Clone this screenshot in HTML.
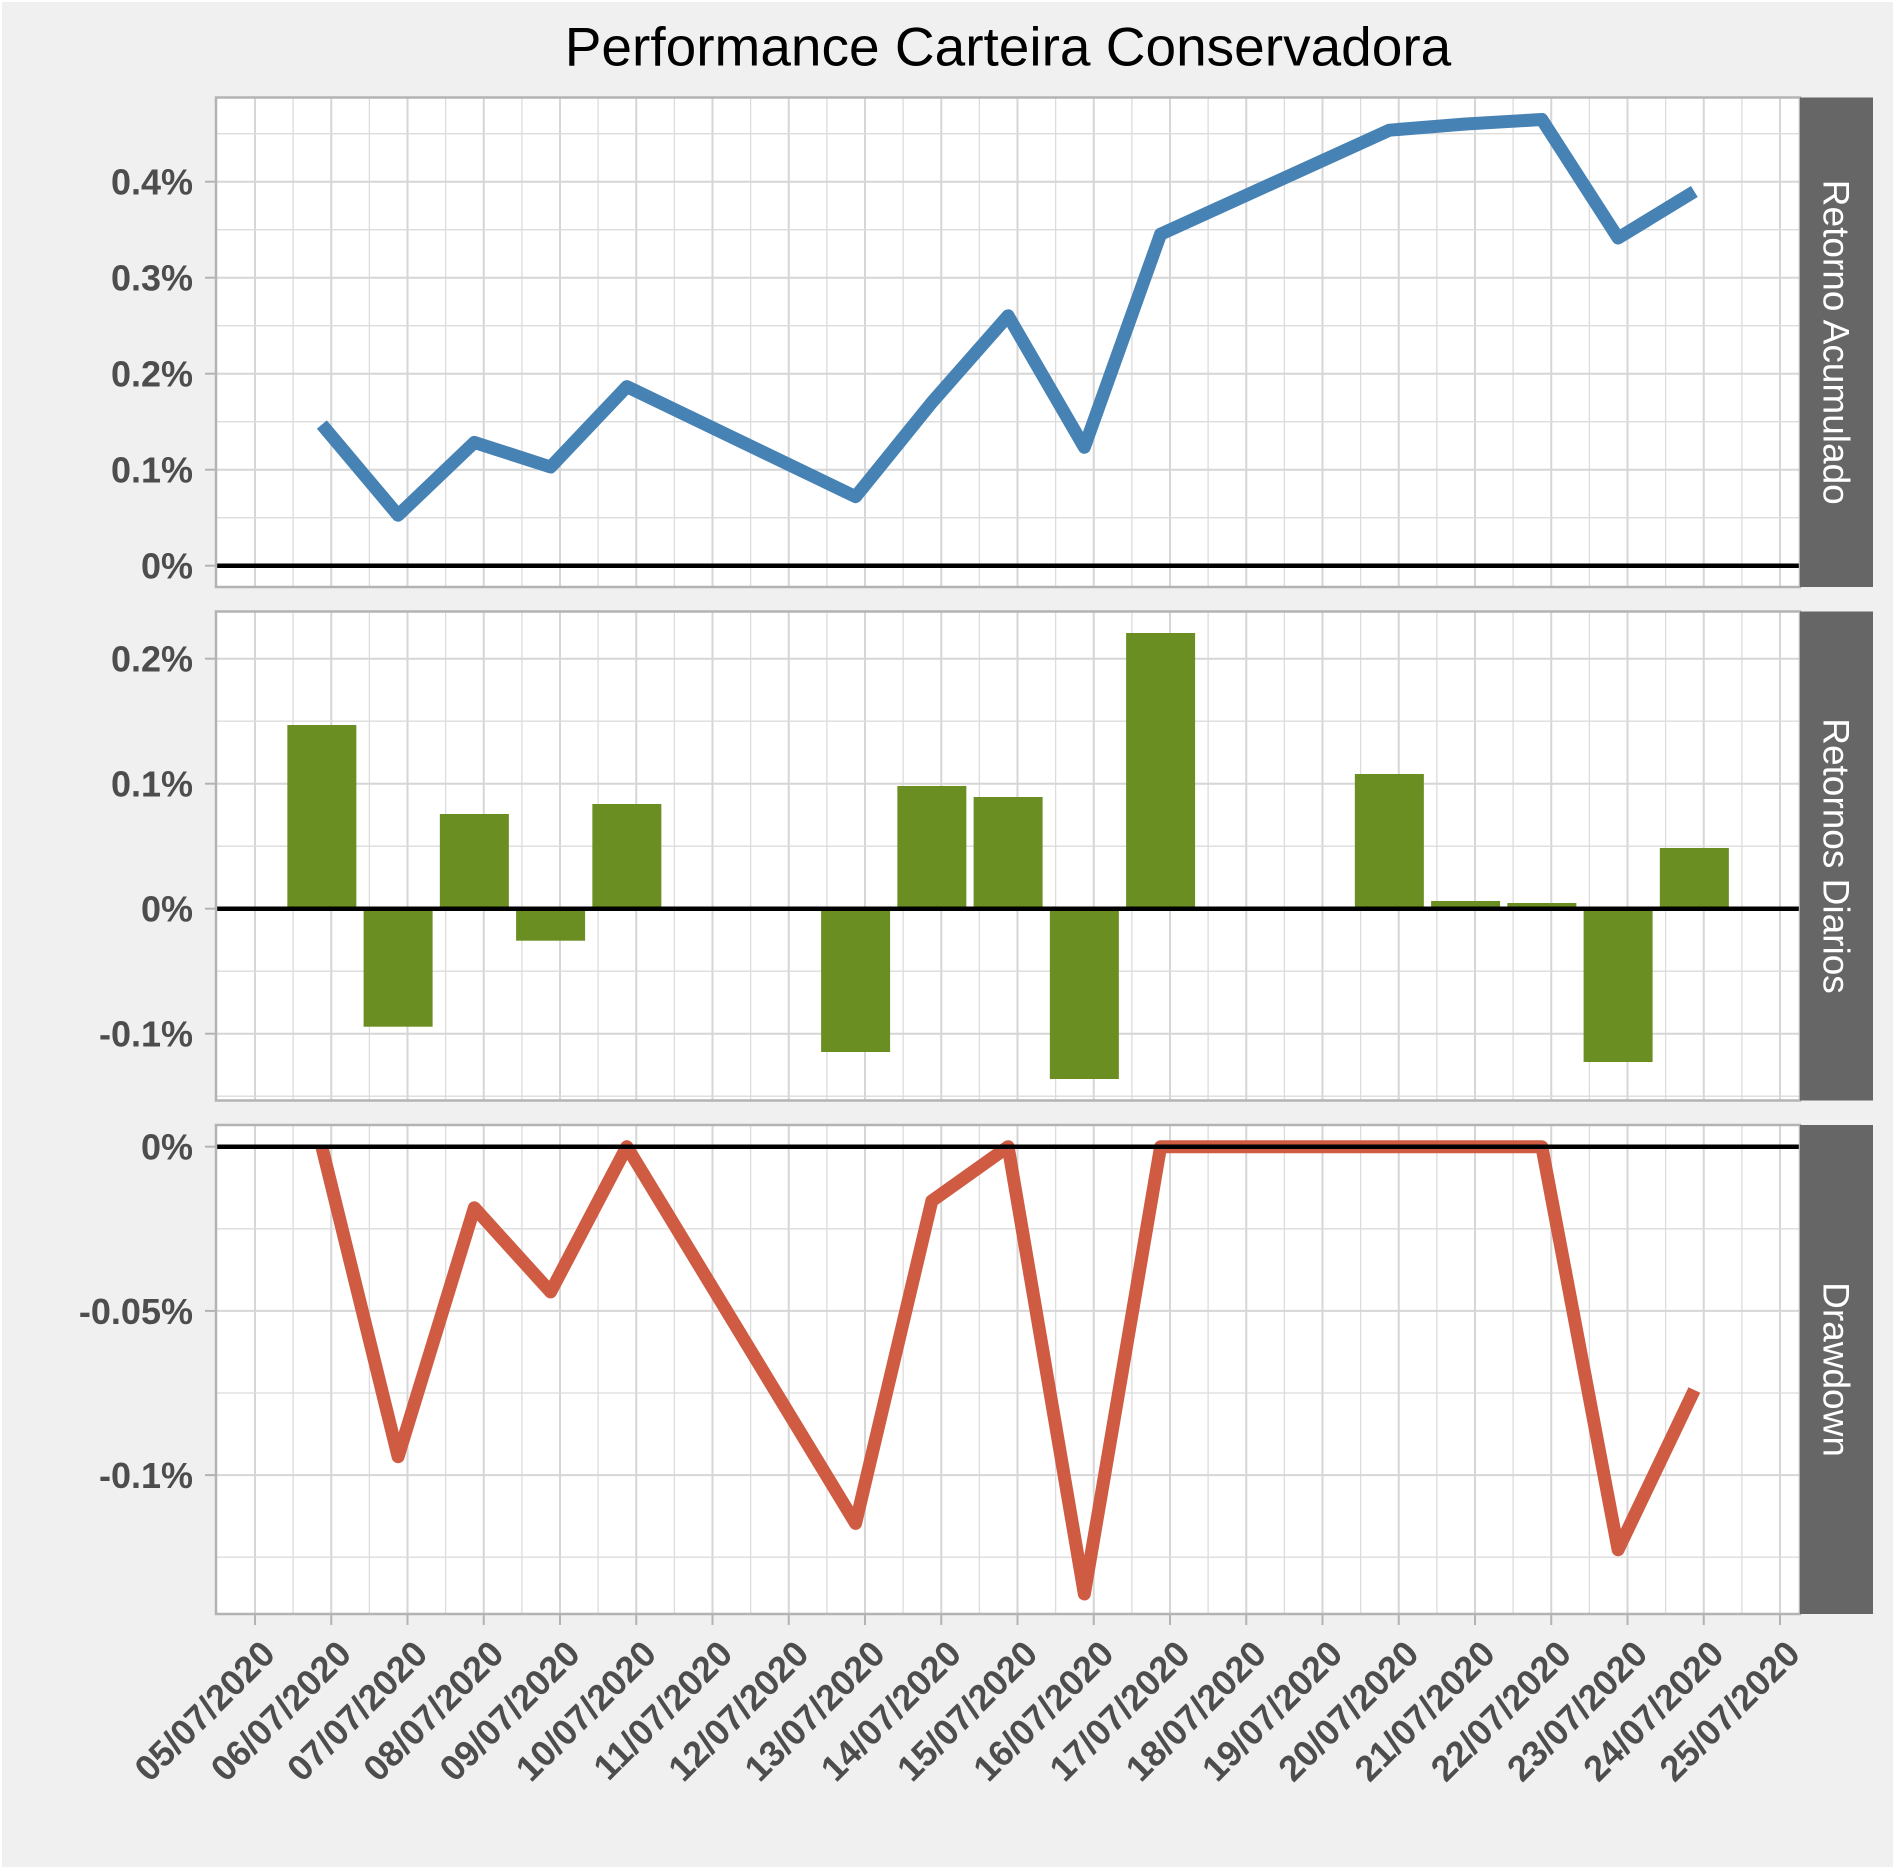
<!DOCTYPE html>
<html>
<head>
<meta charset="utf-8">
<style>
  html, body { margin:0; padding:0; background:#ffffff; }
  svg { display:block; }
  .yl { font-family:"Liberation Sans", Arial, sans-serif; font-weight:bold; font-size:36px; fill:#4d4d4d; }
  .xl { font-family:"Liberation Sans", Arial, sans-serif; font-weight:bold; font-size:36px; fill:#4d4d4d; }
  .st { font-family:"Liberation Sans", Arial, sans-serif; font-size:37px; fill:#ffffff; }
  .tt { font-family:"Liberation Sans", Arial, sans-serif; font-size:55px; fill:#000000; }
</style>
</head>
<body>
<svg width="1896" height="1871" viewBox="0 0 1896 1871" xmlns="http://www.w3.org/2000/svg">
  <defs>
    <g id="vgrid">
      <g stroke="#dcdcdc" stroke-width="1.3">
        <line x1="293.1" y1="0" x2="293.1" y2="490"/>
        <line x1="369.4" y1="0" x2="369.4" y2="490"/>
        <line x1="445.6" y1="0" x2="445.6" y2="490"/>
        <line x1="521.9" y1="0" x2="521.9" y2="490"/>
        <line x1="598.1" y1="0" x2="598.1" y2="490"/>
        <line x1="674.4" y1="0" x2="674.4" y2="490"/>
        <line x1="750.6" y1="0" x2="750.6" y2="490"/>
        <line x1="826.9" y1="0" x2="826.9" y2="490"/>
        <line x1="903.1" y1="0" x2="903.1" y2="490"/>
        <line x1="979.4" y1="0" x2="979.4" y2="490"/>
        <line x1="1055.6" y1="0" x2="1055.6" y2="490"/>
        <line x1="1131.9" y1="0" x2="1131.9" y2="490"/>
        <line x1="1208.1" y1="0" x2="1208.1" y2="490"/>
        <line x1="1284.4" y1="0" x2="1284.4" y2="490"/>
        <line x1="1360.6" y1="0" x2="1360.6" y2="490"/>
        <line x1="1436.9" y1="0" x2="1436.9" y2="490"/>
        <line x1="1513.1" y1="0" x2="1513.1" y2="490"/>
        <line x1="1589.4" y1="0" x2="1589.4" y2="490"/>
        <line x1="1665.6" y1="0" x2="1665.6" y2="490"/>
        <line x1="1741.9" y1="0" x2="1741.9" y2="490"/>
      </g>
      <g stroke="#d6d6d6" stroke-width="2">
        <line x1="255" y1="0" x2="255" y2="490"/>
        <line x1="331.25" y1="0" x2="331.25" y2="490"/>
        <line x1="407.5" y1="0" x2="407.5" y2="490"/>
        <line x1="483.75" y1="0" x2="483.75" y2="490"/>
        <line x1="560" y1="0" x2="560" y2="490"/>
        <line x1="636.25" y1="0" x2="636.25" y2="490"/>
        <line x1="712.5" y1="0" x2="712.5" y2="490"/>
        <line x1="788.75" y1="0" x2="788.75" y2="490"/>
        <line x1="865" y1="0" x2="865" y2="490"/>
        <line x1="941.25" y1="0" x2="941.25" y2="490"/>
        <line x1="1017.5" y1="0" x2="1017.5" y2="490"/>
        <line x1="1093.75" y1="0" x2="1093.75" y2="490"/>
        <line x1="1170" y1="0" x2="1170" y2="490"/>
        <line x1="1246.25" y1="0" x2="1246.25" y2="490"/>
        <line x1="1322.5" y1="0" x2="1322.5" y2="490"/>
        <line x1="1398.75" y1="0" x2="1398.75" y2="490"/>
        <line x1="1475" y1="0" x2="1475" y2="490"/>
        <line x1="1551.25" y1="0" x2="1551.25" y2="490"/>
        <line x1="1627.5" y1="0" x2="1627.5" y2="490"/>
        <line x1="1703.75" y1="0" x2="1703.75" y2="490"/>
        <line x1="1780" y1="0" x2="1780" y2="490"/>
      </g>
    </g>
    <clipPath id="c1"><rect x="216" y="97.5" width="1584" height="489.5"/></clipPath>
    <clipPath id="c2"><rect x="216" y="611.5" width="1584" height="489"/></clipPath>
    <clipPath id="c3"><rect x="216" y="1125" width="1584" height="489"/></clipPath>
  </defs>

  <!-- plot background -->
  <rect x="2" y="2" width="1891" height="1865" fill="#f0f0f0"/>

  <!-- Title -->
  <text class="tt" x="1008" y="65.5" text-anchor="middle">Performance Carteira Conservadora</text>

  <!-- ============ PANEL 1 ============ -->
  <rect x="216" y="97.5" width="1584" height="489.5" fill="#ffffff"/>
  <g clip-path="url(#c1)">
    <use href="#vgrid" transform="translate(0,97.5)"/>
    <g stroke="#dcdcdc" stroke-width="1.3">
      <line x1="216" y1="133.7" x2="1800" y2="133.7"/>
      <line x1="216" y1="229.7" x2="1800" y2="229.7"/>
      <line x1="216" y1="325.7" x2="1800" y2="325.7"/>
      <line x1="216" y1="421.7" x2="1800" y2="421.7"/>
      <line x1="216" y1="517.7" x2="1800" y2="517.7"/>
    </g>
    <g stroke="#d6d6d6" stroke-width="2">
      <line x1="216" y1="181.7" x2="1800" y2="181.7"/>
      <line x1="216" y1="277.7" x2="1800" y2="277.7"/>
      <line x1="216" y1="373.7" x2="1800" y2="373.7"/>
      <line x1="216" y1="469.7" x2="1800" y2="469.7"/>
    </g>
    <line x1="216" y1="565.7" x2="1800" y2="565.7" stroke="#000" stroke-width="4.5"/>
    <polyline fill="none" stroke="#4682b4" stroke-width="13" stroke-linejoin="round" stroke-linecap="butt"
      points="321.85,424.6 398.1,515.2 474.35,442.4 550.6,467.0 626.85,386.6 855.6,496.7 931.85,402.4 1008.1,315.8 1084.35,447.3 1160.6,234.2 1389.35,130.2 1465.6,124.0 1541.85,119.5 1618.1,238.0 1694.35,191.5"/>
  </g>
  <rect x="216" y="97.5" width="1584" height="489.5" fill="none" stroke="#b3b3b3" stroke-width="2.5"/>
  <rect x="1800" y="97.5" width="73" height="489.5" fill="#666666"/>
  <text class="st" transform="translate(1836.5,342.25) rotate(90)" text-anchor="middle" y="13">Retorno Acumulado</text>
  <g stroke="#b3b3b3" stroke-width="2">
    <line x1="205" y1="181.7" x2="216" y2="181.7"/>
    <line x1="205" y1="277.7" x2="216" y2="277.7"/>
    <line x1="205" y1="373.7" x2="216" y2="373.7"/>
    <line x1="205" y1="469.7" x2="216" y2="469.7"/>
    <line x1="205" y1="565.7" x2="216" y2="565.7"/>
  </g>
  <text class="yl" x="193" y="194.6" text-anchor="end">0.4%</text>
  <text class="yl" x="193" y="290.6" text-anchor="end">0.3%</text>
  <text class="yl" x="193" y="386.6" text-anchor="end">0.2%</text>
  <text class="yl" x="193" y="482.6" text-anchor="end">0.1%</text>
  <text class="yl" x="193" y="578.6" text-anchor="end">0%</text>

  <!-- ============ PANEL 2 ============ -->
  <rect x="216" y="611.5" width="1584" height="489" fill="#ffffff"/>
  <g clip-path="url(#c2)">
    <use href="#vgrid" transform="translate(0,611.5)"/>
    <g stroke="#dcdcdc" stroke-width="1.3">
      <line x1="216" y1="721.2" x2="1800" y2="721.2"/>
      <line x1="216" y1="846.2" x2="1800" y2="846.2"/>
      <line x1="216" y1="971.2" x2="1800" y2="971.2"/>
      <line x1="216" y1="1096.2" x2="1800" y2="1096.2"/>
    </g>
    <g stroke="#d6d6d6" stroke-width="2">
      <line x1="216" y1="658.7" x2="1800" y2="658.7"/>
      <line x1="216" y1="783.7" x2="1800" y2="783.7"/>
      <line x1="216" y1="1033.7" x2="1800" y2="1033.7"/>
    </g>
    <g fill="#6b8e23">
      <rect x="287.35" y="725" width="69" height="183.7"/>
      <rect x="363.6" y="908.7" width="69" height="118"/>
      <rect x="439.85" y="814" width="69" height="94.7"/>
      <rect x="516.1" y="908.7" width="69" height="32"/>
      <rect x="592.35" y="804" width="69" height="104.7"/>
      <rect x="821.1" y="908.7" width="69" height="143.3"/>
      <rect x="897.35" y="786" width="69" height="122.7"/>
      <rect x="973.6" y="797" width="69" height="111.7"/>
      <rect x="1049.85" y="908.7" width="69" height="170.3"/>
      <rect x="1126.1" y="633" width="69" height="275.7"/>
      <rect x="1354.85" y="774" width="69" height="134.7"/>
      <rect x="1431.1" y="901" width="69" height="7.7"/>
      <rect x="1507.35" y="903" width="69" height="5.7"/>
      <rect x="1583.6" y="908.7" width="69" height="153.3"/>
      <rect x="1659.85" y="848" width="69" height="60.7"/>
    </g>
    <line x1="216" y1="908.7" x2="1800" y2="908.7" stroke="#000" stroke-width="4.5"/>
  </g>
  <rect x="216" y="611.5" width="1584" height="489" fill="none" stroke="#b3b3b3" stroke-width="2.5"/>
  <rect x="1800" y="611.5" width="73" height="489" fill="#666666"/>
  <text class="st" transform="translate(1836.5,856) rotate(90)" text-anchor="middle" y="13">Retornos Diarios</text>
  <g stroke="#b3b3b3" stroke-width="2">
    <line x1="205" y1="658.7" x2="216" y2="658.7"/>
    <line x1="205" y1="783.7" x2="216" y2="783.7"/>
    <line x1="205" y1="908.7" x2="216" y2="908.7"/>
    <line x1="205" y1="1033.7" x2="216" y2="1033.7"/>
  </g>
  <text class="yl" x="193" y="671.6" text-anchor="end">0.2%</text>
  <text class="yl" x="193" y="796.6" text-anchor="end">0.1%</text>
  <text class="yl" x="193" y="921.6" text-anchor="end">0%</text>
  <text class="yl" x="193" y="1046.6" text-anchor="end">-0.1%</text>

  <!-- ============ PANEL 3 ============ -->
  <rect x="216" y="1125" width="1584" height="489" fill="#ffffff"/>
  <g clip-path="url(#c3)">
    <use href="#vgrid" transform="translate(0,1125)"/>
    <g stroke="#dcdcdc" stroke-width="1.3">
      <line x1="216" y1="1228.8" x2="1800" y2="1228.8"/>
      <line x1="216" y1="1393" x2="1800" y2="1393"/>
      <line x1="216" y1="1557.2" x2="1800" y2="1557.2"/>
    </g>
    <g stroke="#d6d6d6" stroke-width="2">
      <line x1="216" y1="1310.9" x2="1800" y2="1310.9"/>
      <line x1="216" y1="1475.1" x2="1800" y2="1475.1"/>
    </g>
    <polyline fill="none" stroke="#d05b43" stroke-width="13" stroke-linejoin="round" stroke-linecap="butt"
      points="321.85,1146.7 398.1,1456.7 474.35,1207.8 550.6,1291.9 626.85,1146.7 855.6,1523.4 931.85,1200.9 1008.1,1146.7 1084.35,1594.0 1160.6,1146.7 1389.35,1146.7 1465.6,1146.7 1541.85,1146.7 1618.1,1549.7 1694.35,1390.0"/>
    <line x1="216" y1="1146.7" x2="1800" y2="1146.7" stroke="#000" stroke-width="4.5"/>
  </g>
  <rect x="216" y="1125" width="1584" height="489" fill="none" stroke="#b3b3b3" stroke-width="2.5"/>
  <rect x="1800" y="1125" width="73" height="489" fill="#666666"/>
  <text class="st" transform="translate(1836.5,1369.5) rotate(90)" text-anchor="middle" y="13">Drawdown</text>
  <g stroke="#b3b3b3" stroke-width="2">
    <line x1="205" y1="1146.7" x2="216" y2="1146.7"/>
    <line x1="205" y1="1310.9" x2="216" y2="1310.9"/>
    <line x1="205" y1="1475.1" x2="216" y2="1475.1"/>
  </g>
  <text class="yl" x="193" y="1159.6" text-anchor="end">0%</text>
  <text class="yl" x="193" y="1323.8" text-anchor="end">-0.05%</text>
  <text class="yl" x="193" y="1488" text-anchor="end">-0.1%</text>

  <!-- X ticks -->
  <g stroke="#b3b3b3" stroke-width="2">
    <line x1="255" y1="1614" x2="255" y2="1625"/>
    <line x1="331.25" y1="1614" x2="331.25" y2="1625"/>
    <line x1="407.5" y1="1614" x2="407.5" y2="1625"/>
    <line x1="483.75" y1="1614" x2="483.75" y2="1625"/>
    <line x1="560" y1="1614" x2="560" y2="1625"/>
    <line x1="636.25" y1="1614" x2="636.25" y2="1625"/>
    <line x1="712.5" y1="1614" x2="712.5" y2="1625"/>
    <line x1="788.75" y1="1614" x2="788.75" y2="1625"/>
    <line x1="865" y1="1614" x2="865" y2="1625"/>
    <line x1="941.25" y1="1614" x2="941.25" y2="1625"/>
    <line x1="1017.5" y1="1614" x2="1017.5" y2="1625"/>
    <line x1="1093.75" y1="1614" x2="1093.75" y2="1625"/>
    <line x1="1170" y1="1614" x2="1170" y2="1625"/>
    <line x1="1246.25" y1="1614" x2="1246.25" y2="1625"/>
    <line x1="1322.5" y1="1614" x2="1322.5" y2="1625"/>
    <line x1="1398.75" y1="1614" x2="1398.75" y2="1625"/>
    <line x1="1475" y1="1614" x2="1475" y2="1625"/>
    <line x1="1551.25" y1="1614" x2="1551.25" y2="1625"/>
    <line x1="1627.5" y1="1614" x2="1627.5" y2="1625"/>
    <line x1="1703.75" y1="1614" x2="1703.75" y2="1625"/>
    <line x1="1780" y1="1614" x2="1780" y2="1625"/>
  </g>

  <!-- X labels -->
  <g class="xl" text-anchor="end">
    <text transform="translate(277,1656) rotate(-45)">05/07/2020</text>
    <text transform="translate(353.25,1656) rotate(-45)">06/07/2020</text>
    <text transform="translate(429.5,1656) rotate(-45)">07/07/2020</text>
    <text transform="translate(505.75,1656) rotate(-45)">08/07/2020</text>
    <text transform="translate(582,1656) rotate(-45)">09/07/2020</text>
    <text transform="translate(658.25,1656) rotate(-45)">10/07/2020</text>
    <text transform="translate(734.5,1656) rotate(-45)">11/07/2020</text>
    <text transform="translate(810.75,1656) rotate(-45)">12/07/2020</text>
    <text transform="translate(887,1656) rotate(-45)">13/07/2020</text>
    <text transform="translate(963.25,1656) rotate(-45)">14/07/2020</text>
    <text transform="translate(1039.5,1656) rotate(-45)">15/07/2020</text>
    <text transform="translate(1115.75,1656) rotate(-45)">16/07/2020</text>
    <text transform="translate(1192,1656) rotate(-45)">17/07/2020</text>
    <text transform="translate(1268.25,1656) rotate(-45)">18/07/2020</text>
    <text transform="translate(1344.5,1656) rotate(-45)">19/07/2020</text>
    <text transform="translate(1420.75,1656) rotate(-45)">20/07/2020</text>
    <text transform="translate(1497,1656) rotate(-45)">21/07/2020</text>
    <text transform="translate(1573.25,1656) rotate(-45)">22/07/2020</text>
    <text transform="translate(1649.5,1656) rotate(-45)">23/07/2020</text>
    <text transform="translate(1725.75,1656) rotate(-45)">24/07/2020</text>
    <text transform="translate(1802,1656) rotate(-45)">25/07/2020</text>
  </g>
</svg>
</body>
</html>
